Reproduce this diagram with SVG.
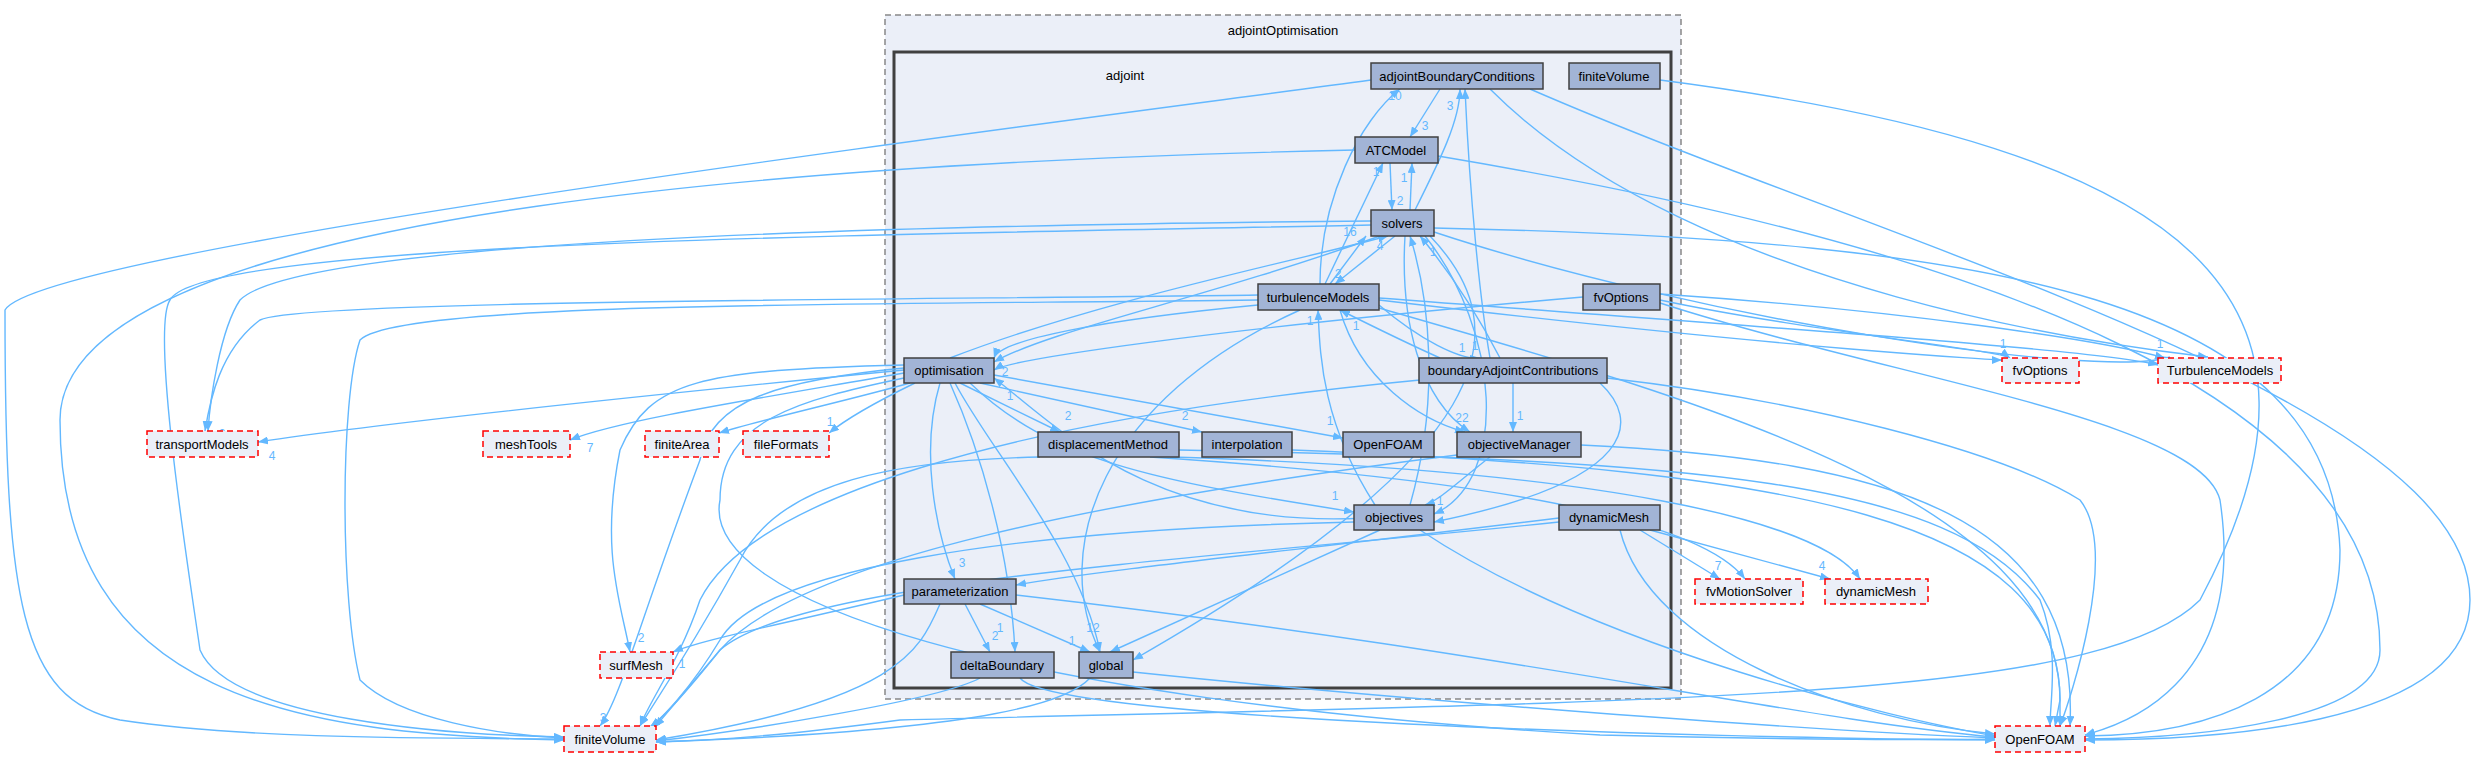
<svg xmlns="http://www.w3.org/2000/svg" width="2477" height="759" viewBox="0 0 2477 759">
<style>
.n rect{fill:#a2b4d6;stroke:#404040;stroke-width:1.5}
.x rect{fill:#ebeff8;stroke:#ff0000;stroke-width:1.5;stroke-dasharray:6,4}
text{font-family:"Liberation Sans",Arial,sans-serif;font-size:13px;fill:#000;text-anchor:middle}
#edges path{fill:none;stroke:#63b8ff;stroke-width:1.4;marker-end:url(#a)}
#edges text{fill:#63b8ff;font-size:12px}
</style>
<defs><marker id="a" markerWidth="10" markerHeight="8" refX="10" refY="4" orient="auto" markerUnits="userSpaceOnUse"><path d="M0,0L10,4L0,8z" fill="#63b8ff"/></marker></defs>
<rect width="2477" height="759" fill="#fff"/>
<g id="adjointOptimisation"><rect x="885" y="15" width="796" height="684" fill="#ebeff8" stroke="#888" stroke-width="1.5" stroke-dasharray="6,4"/><text x="1283" y="35">adjointOptimisation</text></g>
<g id="adjoint"><rect x="894" y="52" width="777" height="636" fill="#ebeff8" stroke="#404040" stroke-width="3"/><text x="1125" y="80">adjoint</text></g>
<g id="edges">
<path d="M1371,80C1000,130 40,250 5,310C5,600 20,700 120,720C250,740 450,738 564,739"/>
<path d="M1440,89L1410,137"/><text x="1425" y="130">3</text>
<path d="M1490,89C1700,300 2150,350 2208,357"/>
<path d="M1530,89C1900,250 2470,400 2470,600C2470,730 2200,740 2085,740"/>
<path d="M1660,80C2200,150 2360,300 2200,600C2100,700 1700,700 900,720C750,740 700,740 656,742"/>
<path d="M1355,150C900,160 60,200 60,420C60,700 300,735 564,740"/>
<path d="M1438,156C2000,250 2380,400 2380,650C2380,720 2200,738 2085,739"/>
<path d="M1390,163L1392,210"/><text x="1400" y="205">2</text>
<path d="M1415,210C1440,160 1460,120 1460,89"/><text x="1450" y="110">3</text>
<path d="M1410,210L1412,163"/><text x="1404" y="182">1</text>
<path d="M1371,221C900,225 300,240 240,300C220,330 210,400 208,431"/>
<path d="M1371,225C900,235 200,240 170,300C150,330 190,580 200,650C230,720 450,735 564,737"/>
<path d="M1434,228C2000,240 2330,300 2340,550C2340,700 2200,735 2085,736"/>
<path d="M1434,232C1700,320 2100,380 2170,357"/>
<path d="M1395,236L1335,284"/><text x="1338" y="278">2</text>
<path d="M1380,236C1200,300 1050,330 994,362"/><text x="1005" y="376">2</text>
<path d="M1405,236C1400,320 1420,400 1470,432"/><text x="1462" y="422">22</text>
<path d="M1425,236C1500,330 1510,480 1434,514"/>
<path d="M1430,236C1520,330 1500,450 1133,660"/>
<path d="M1330,284L1366,236"/><text x="1350" y="236">16</text>
<path d="M1320,284C1320,200 1360,120 1400,89"/><text x="1395" y="100">10</text>
<path d="M1325,284L1383,163"/><text x="1376" y="176">1</text>
<path d="M1258,295C900,300 300,300 260,320C220,350 210,400 205,431"/><text x="222" y="438">2</text>
<path d="M1258,300C900,305 400,300 360,340C340,400 340,600 360,680C400,720 500,735 564,738"/>
<path d="M1258,305C1100,320 1000,340 994,358"/>
<path d="M1379,305C1420,340 1460,360 1480,358"/><text x="1462" y="352">1</text>
<path d="M1379,300C1800,350 2000,360 2002,360"/>
<path d="M1379,298C1800,330 2100,350 2158,365"/>
<path d="M1379,308C1700,400 2060,500 2060,700L2060,726"/>
<path d="M1340,310C1360,380 1420,420 1465,432"/>
<path d="M1300,310C1100,400 1050,550 1100,652"/>
<path d="M1583,297C1200,330 1010,360 994,370"/>
<path d="M1660,300C1800,330 2000,350 2010,358"/><text x="2003" y="348">1</text>
<path d="M1660,294C1900,310 2100,340 2165,358"/><text x="2160" y="348">1</text>
<path d="M1660,303C1900,380 2200,420 2220,500C2250,700 2100,730 2085,735"/>
<path d="M1490,358C1480,300 1470,200 1465,89"/><text x="1475" y="350">1</text>
<path d="M1500,358C1470,300 1440,260 1420,236"/><text x="1433" y="256">1</text>
<path d="M1440,358C1400,340 1360,320 1340,310"/><text x="1356" y="330">1</text>
<path d="M1513,383L1513,432"/><text x="1520" y="420">1</text>
<path d="M1600,383C1640,420 1640,480 1434,522"/>
<path d="M1420,380C1000,420 750,500 700,600C680,660 650,700 640,726"/>
<path d="M1607,378C1800,400 2000,450 2080,500C2120,550 2070,700 2060,726"/>
<path d="M950,358C1100,300 1300,260 1388,236"/><text x="1380" y="250">4</text>
<path d="M904,370C700,390 400,420 258,442"/><text x="272" y="460">4</text>
<path d="M904,373C750,400 620,420 570,440"/><text x="590" y="452">7</text>
<path d="M910,383C850,400 760,420 719,433"/><text x="712" y="455">5</text>
<path d="M915,383C880,400 845,420 829,433"/><text x="830" y="426">1</text>
<path d="M904,365C700,370 650,380 620,450C600,550 620,600 630,652"/><text x="641" y="642">2</text>
<path d="M904,368C780,380 710,400 700,460C640,620 620,700 600,726"/><text x="603" y="722">3</text>
<path d="M904,378C800,400 720,420 720,500C700,600 1000,700 1600,735C1800,740 1950,740 1995,739"/>
<path d="M960,383L1060,432"/><text x="1068" y="420">2</text>
<path d="M980,383L1202,432"/><text x="1185" y="420">2</text>
<path d="M994,375L1343,438"/><text x="1330" y="425">1</text>
<path d="M970,383C1050,460 1150,480 1354,512"/><text x="1335" y="500">1</text>
<path d="M940,383C920,450 935,530 955,579"/><text x="962" y="567">3</text>
<path d="M950,383C980,450 1010,550 1015,652"/><text x="1000" y="632">1</text>
<path d="M955,383C990,450 1080,550 1100,652"/><text x="1093" y="632">12</text>
<path d="M1040,457C900,460 780,480 740,560C690,650 650,710 640,726"/>
<path d="M1150,457C1500,480 1700,520 1745,579"/>
<path d="M1170,457C1600,470 1820,520 1860,579"/>
<path d="M1179,450C1700,460 1950,480 2040,600C2060,650 2050,700 2050,726"/>
<path d="M1292,450C1800,470 2060,520 2060,700L2055,726"/>
<path d="M1581,445C1900,460 2080,520 2070,726"/>
<path d="M1490,457C1460,480 1440,500 1425,505"/><text x="1440" y="505">1</text>
<path d="M1457,455C1100,500 800,560 720,650C680,700 660,720 650,727"/>
<path d="M1365,518C1150,530 1050,420 994,378"/><text x="1010" y="400">1</text>
<path d="M1375,505C1320,420 1320,350 1318,310"/><text x="1310" y="325">1</text>
<path d="M1410,505C1440,400 1430,300 1410,236"/>
<path d="M1380,530L1110,652"/>
<path d="M1354,522C1000,530 760,570 720,640C690,690 660,720 650,727"/>
<path d="M1420,530C1600,650 1900,720 1995,736"/>
<path d="M1559,518C1300,550 1100,570 1016,585"/>
<path d="M1559,522C1200,560 800,580 720,650L655,727"/>
<path d="M1640,530L1720,579"/><text x="1718" y="570">7</text>
<path d="M1650,530L1830,579"/><text x="1822" y="570">4</text>
<path d="M1620,530C1650,650 1850,720 1995,734"/>
<path d="M904,595C800,620 700,640 673,652"/><text x="682" y="668">1</text>
<path d="M965,604L990,652"/><text x="995" y="640">2</text>
<path d="M980,604L1090,652"/><text x="1072" y="645">1</text>
<path d="M940,604C920,650 900,700 656,740"/>
<path d="M1016,595C1500,650 1800,720 1995,737"/>
<path d="M980,678C940,700 750,730 656,741"/>
<path d="M1020,678C1050,720 1700,738 1995,740"/>
<path d="M1090,678C1070,700 1000,730 656,742"/>
<path d="M1133,672C1400,700 1800,730 1995,738"/>
</g>
<g id="adjointBoundaryConditions" class="n"><rect x="1371" y="63" width="172" height="26"/><text x="1457" y="81">adjointBoundaryConditions</text></g>
<g id="finiteVolume_in" class="n"><rect x="1569" y="63" width="91" height="26"/><text x="1614" y="81">finiteVolume</text></g>
<g id="ATCModel" class="n"><rect x="1355" y="137" width="83" height="26"/><text x="1396" y="155">ATCModel</text></g>
<g id="solvers" class="n"><rect x="1371" y="210" width="63" height="26"/><text x="1402" y="228">solvers</text></g>
<g id="turbulenceModels" class="n"><rect x="1258" y="284" width="121" height="26"/><text x="1318" y="302">turbulenceModels</text></g>
<g id="fvOptions_in" class="n"><rect x="1583" y="284" width="77" height="26"/><text x="1621" y="302">fvOptions</text></g>
<g id="optimisation" class="n"><rect x="904" y="358" width="90" height="25"/><text x="949" y="375">optimisation</text></g>
<g id="boundaryAdjointContributions" class="n"><rect x="1419" y="358" width="188" height="25"/><text x="1513" y="375">boundaryAdjointContributions</text></g>
<g id="displacementMethod" class="n"><rect x="1038" y="432" width="141" height="25"/><text x="1108" y="449">displacementMethod</text></g>
<g id="interpolation" class="n"><rect x="1202" y="432" width="90" height="25"/><text x="1247" y="449">interpolation</text></g>
<g id="OpenFOAM_in" class="n"><rect x="1343" y="432" width="91" height="25"/><text x="1388" y="449">OpenFOAM</text></g>
<g id="objectiveManager" class="n"><rect x="1457" y="432" width="124" height="25"/><text x="1519" y="449">objectiveManager</text></g>
<g id="objectives" class="n"><rect x="1354" y="505" width="80" height="25"/><text x="1394" y="522">objectives</text></g>
<g id="dynamicMesh_in" class="n"><rect x="1559" y="505" width="101" height="25"/><text x="1609" y="522">dynamicMesh</text></g>
<g id="parameterization" class="n"><rect x="904" y="579" width="112" height="25"/><text x="960" y="596">parameterization</text></g>
<g id="deltaBoundary" class="n"><rect x="951" y="652" width="103" height="26"/><text x="1002" y="670">deltaBoundary</text></g>
<g id="global" class="n"><rect x="1079" y="652" width="54" height="26"/><text x="1106" y="670">global</text></g>
<g id="transportModels" class="x"><rect x="147" y="431" width="111" height="26"/><text x="202" y="449">transportModels</text></g>
<g id="meshTools" class="x"><rect x="483" y="431" width="87" height="26"/><text x="526" y="449">meshTools</text></g>
<g id="finiteArea" class="x"><rect x="645" y="431" width="74" height="26"/><text x="682" y="449">finiteArea</text></g>
<g id="fileFormats" class="x"><rect x="743" y="431" width="86" height="26"/><text x="786" y="449">fileFormats</text></g>
<g id="surfMesh" class="x"><rect x="600" y="652" width="73" height="26"/><text x="636" y="670">surfMesh</text></g>
<g id="finiteVolume" class="x"><rect x="564" y="726" width="92" height="26"/><text x="610" y="744">finiteVolume</text></g>
<g id="fvOptions" class="x"><rect x="2002" y="358" width="77" height="25"/><text x="2040" y="375">fvOptions</text></g>
<g id="TurbulenceModels" class="x"><rect x="2158" y="358" width="123" height="25"/><text x="2220" y="375">TurbulenceModels</text></g>
<g id="fvMotionSolver" class="x"><rect x="1695" y="579" width="108" height="25"/><text x="1749" y="596">fvMotionSolver</text></g>
<g id="dynamicMesh" class="x"><rect x="1825" y="579" width="103" height="25"/><text x="1876" y="596">dynamicMesh</text></g>
<g id="OpenFOAM" class="x"><rect x="1995" y="726" width="90" height="26"/><text x="2040" y="744">OpenFOAM</text></g>
</svg>
